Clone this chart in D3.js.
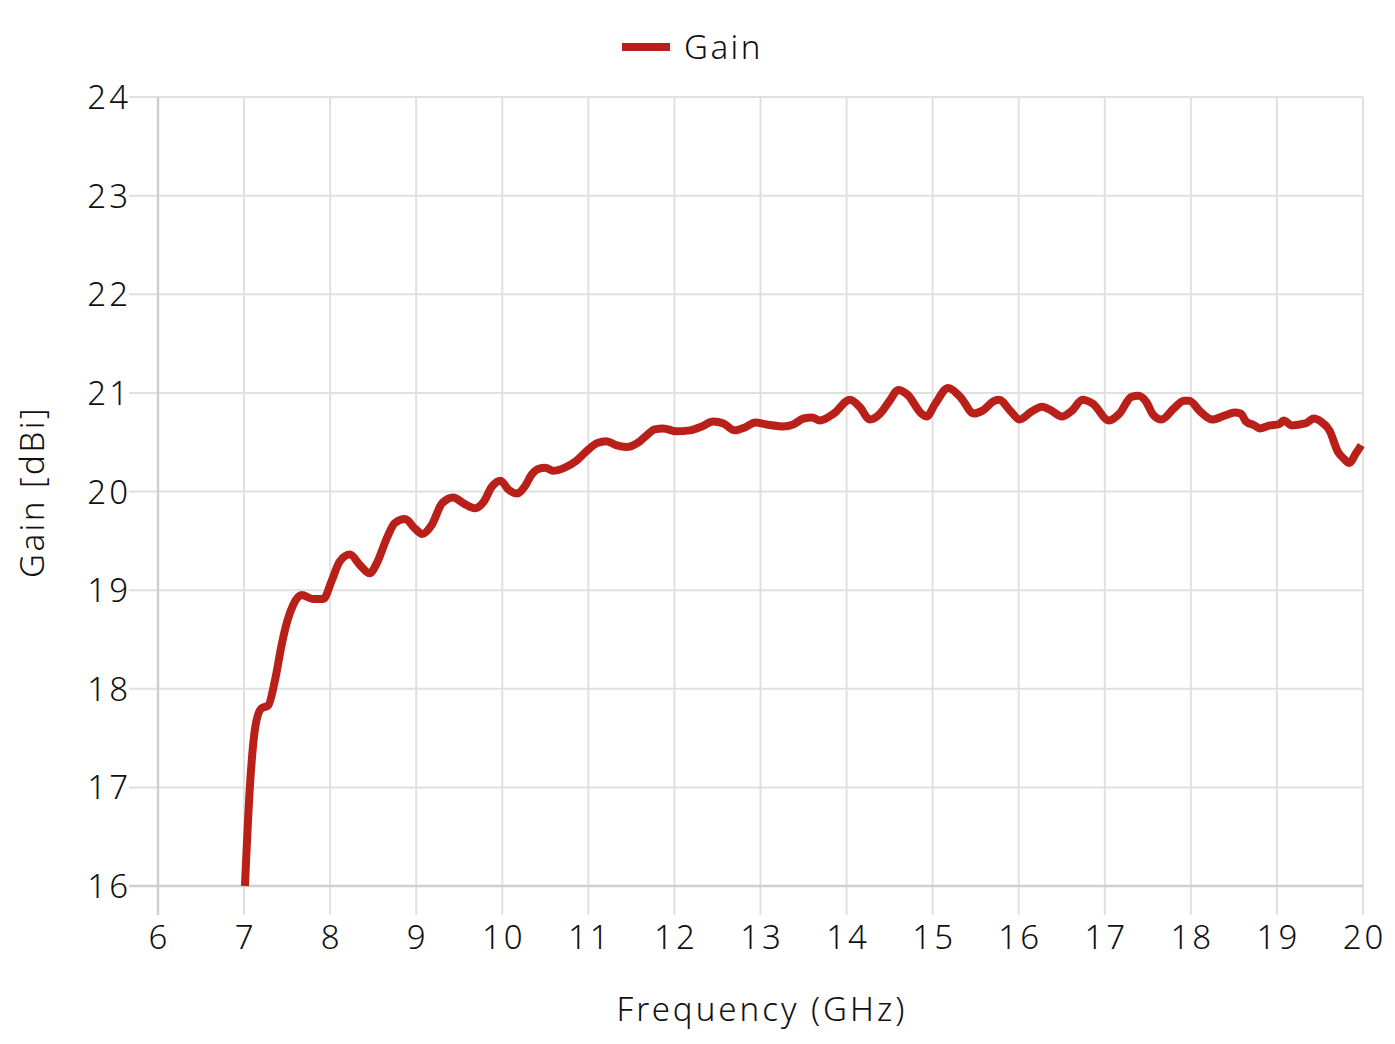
<!DOCTYPE html>
<html><head><meta charset="utf-8">
<script src="https://cdn.jsdelivr.net/npm/d3@7"></script>
<style>body{margin:0;background:#fff}svg{display:block}text{font-family:"Noto Sans",sans-serif;font-weight:300;fill:#111}</style>
</head><body>
<script>
const seriesName = "Gain";
const freq = [7.01,7.07,7.13,7.2,7.28,7.36,7.44,7.5,7.57,7.67,7.8,7.92,8.02,8.11,8.23,8.35,8.46,8.54,8.66,8.75,8.87,8.99,9.07,9.18,9.3,9.43,9.55,9.68,9.78,9.88,9.98,10.07,10.17,10.26,10.34,10.42,10.5,10.59,10.72,10.86,10.98,11.1,11.21,11.32,11.44,11.6,11.69,11.77,11.87,12.02,12.18,12.32,12.45,12.57,12.7,12.82,12.94,13.07,13.26,13.38,13.5,13.6,13.69,13.85,14.04,14.15,14.27,14.39,14.5,14.6,14.71,14.87,14.93,15.03,15.18,15.32,15.48,15.58,15.72,15.77,15.91,16.01,16.15,16.27,16.38,16.5,16.62,16.74,16.86,17.05,17.17,17.31,17.39,17.48,17.56,17.66,17.8,17.92,17.98,18.11,18.25,18.39,18.51,18.58,18.64,18.74,18.8,18.92,19.02,19.08,19.17,19.33,19.43,19.51,19.61,19.71,19.78,19.84,19.92,19.98];
const gain = [16.0,17.04,17.61,17.8,17.83,18.09,18.46,18.68,18.85,18.95,18.91,18.91,19.1,19.29,19.36,19.25,19.17,19.27,19.53,19.68,19.72,19.62,19.57,19.66,19.88,19.94,19.88,19.83,19.89,20.05,20.11,20.02,19.98,20.05,20.17,20.23,20.24,20.21,20.24,20.31,20.41,20.49,20.51,20.47,20.45,20.51,20.58,20.63,20.64,20.61,20.62,20.66,20.71,20.69,20.62,20.65,20.7,20.68,20.66,20.68,20.74,20.75,20.72,20.79,20.93,20.86,20.73,20.79,20.92,21.03,20.98,20.79,20.76,20.89,21.05,20.96,20.79,20.82,20.92,20.93,20.81,20.73,20.81,20.86,20.82,20.76,20.82,20.93,20.89,20.72,20.79,20.96,20.97,20.91,20.78,20.73,20.84,20.92,20.92,20.81,20.73,20.77,20.8,20.79,20.71,20.67,20.64,20.67,20.68,20.72,20.67,20.69,20.74,20.71,20.62,20.4,20.33,20.29,20.39,20.47];
const xTicks = [6,7,8,9,10,11,12,13,14,15,16,17,18,19,20];
const yTicks = [16,17,18,19,20,21,22,23,24];
const xTitle = "Frequency (GHz)";
const yTitle = "Gain [dBi]";

const W = 1395, H = 1044;
const m = {l:158, r:1363, t:97, b:886};
const svg = d3.select("body").append("svg").attr("width", W).attr("height", H);
const x = d3.scaleLinear().domain([6,20]).range([m.l, m.r]);
const y = d3.scaleLinear().domain([16,24]).range([m.b, m.t]);

// grid
const g = svg.append("g");
g.selectAll("line.v").data(xTicks).enter().append("line")
  .attr("x1", d=>x(d)).attr("x2", d=>x(d)).attr("y1", m.t).attr("y2", m.b+29)
  .attr("stroke", d=> d===6 ? "#cfcfcf" : "#e0e0e0").attr("stroke-width", 2);
g.selectAll("line.h").data(yTicks).enter().append("line")
  .attr("x1", m.l-29).attr("x2", m.r).attr("y1", d=>y(d)).attr("y2", d=>y(d))
  .attr("stroke", d=> d===16 ? "#cfcfcf" : "#e0e0e0").attr("stroke-width", 2);
g.append("line").attr("x1", m.l).attr("x2", m.l).attr("y1", m.t).attr("y2", m.b+29).attr("stroke","#cfcfcf").attr("stroke-width",2.5);
g.append("line").attr("x1", m.l-29).attr("x2", m.r).attr("y1", m.b).attr("y2", m.b).attr("stroke","#cfcfcf").attr("stroke-width",2.5);

// tick labels
svg.append("g").selectAll("text").data(xTicks).enter().append("text")
  .attr("x", d=>x(d)+1.5).attr("y", 949).attr("text-anchor","middle")
  .style("font-size","33px").style("letter-spacing","3px").text(d=>d);
svg.append("g").selectAll("text").data(yTicks).enter().append("text")
  .attr("x", 131).attr("y", d=>y(d)+12).attr("text-anchor","end")
  .style("font-size","33px").style("letter-spacing","3px").text(d=>d);

// titles
svg.append("text").attr("x", 762).attr("y", 1021).attr("text-anchor","middle")
  .style("font-size","33px").style("letter-spacing","3px").text(xTitle);
svg.append("text").attr("transform","translate(44,492) rotate(-90)").attr("text-anchor","middle")
  .style("font-size","33px").style("letter-spacing","2.5px").text(yTitle);

// line
const line = d3.line().x((d,i)=>x(freq[i])).y(d=>y(d)).curve(d3.curveMonotoneX);
svg.append("path").datum(gain).attr("d", line).attr("fill","none")
  .attr("stroke","#b9201a").attr("stroke-width",8).attr("stroke-linejoin","round").attr("stroke-linecap","butt");

// legend
svg.append("line").attr("x1",622).attr("x2",670).attr("y1",47).attr("y2",47)
  .attr("stroke","#b9201a").attr("stroke-width",8);
svg.append("text").attr("x",684).attr("y",59).style("font-size","33px").style("letter-spacing","2.5px").text(seriesName);
</script>
</body></html>
